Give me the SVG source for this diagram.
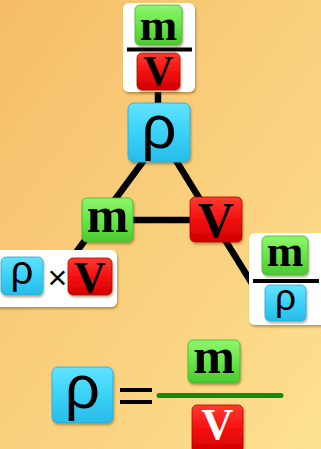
<svg xmlns="http://www.w3.org/2000/svg" width="321" height="449" viewBox="0 0 321 449">
<defs>
<linearGradient id="bg" x1="0" y1="0" x2="1" y2="1">
<stop offset="0" stop-color="#f5bd68"/>
<stop offset="1" stop-color="#fde190"/>
</linearGradient>
<linearGradient id="gG" x1="0" y1="0" x2="0" y2="1">
<stop offset="0" stop-color="#8ef56c"/>
<stop offset="0.5" stop-color="#68e648"/>
<stop offset="1" stop-color="#4cc832"/>
</linearGradient>
<linearGradient id="gR" x1="0" y1="0" x2="0" y2="1">
<stop offset="0" stop-color="#ff3a30"/>
<stop offset="0.5" stop-color="#f41010"/>
<stop offset="1" stop-color="#d00000"/>
</linearGradient>
<linearGradient id="gB" x1="0" y1="0" x2="0" y2="1">
<stop offset="0" stop-color="#62e2ff"/>
<stop offset="0.5" stop-color="#3ad2f8"/>
<stop offset="1" stop-color="#28bce8"/>
</linearGradient>
<filter id="sh" x="-20%" y="-20%" width="140%" height="150%">
<feDropShadow dx="1" dy="2" stdDeviation="1.3" flood-color="#5a3a00" flood-opacity="0.4"/>
</filter>
</defs>
<style>
.card{fill:#ffffff;filter:url(#sh)}
.g{fill:url(#gG);stroke:#45b52c;stroke-width:0.8;filter:url(#sh)}
.r{fill:url(#gR);stroke:#b80000;stroke-width:0.8;filter:url(#sh)}
.b{fill:url(#gB);stroke:#22aad4;stroke-width:0.8;filter:url(#sh)}
.ser{font-family:"Liberation Serif","Times New Roman",serif;font-weight:bold;fill:#000;text-anchor:middle}
.rho{font-family:"Liberation Sans",Arial,sans-serif;fill:#000;text-anchor:middle}
.bar{stroke:#000;stroke-width:4}
.con{stroke:#000;stroke-width:6.5;fill:none}
</style>
<rect x="0" y="0" width="321" height="449" fill="url(#bg)"/>
<g id="connectors">
<line class="con" x1="164" y1="133" x2="69" y2="262"/>
<line class="con" x1="159" y1="133" x2="256" y2="290"/>
<line class="con" x1="108" y1="220" x2="216" y2="220"/>
<line class="con" x1="158" y1="88" x2="158" y2="108"/>
</g>
<g id="top-fraction">
<rect class="card" x="123" y="3" width="72" height="89" rx="6"/>
<rect class="g" x="135" y="5" width="47" height="40" rx="5"/>
<text class="ser" x="158.5" y="40" font-size="45">m</text>
<line class="bar" x1="127" y1="49.5" x2="192" y2="49.5"/>
<rect class="r" x="137" y="53" width="43" height="37" rx="5"/>
<text class="ser" x="158.5" y="85" font-size="42">V</text>
</g>
<g id="rho">
<rect class="b" x="128" y="103" width="62" height="59" rx="6"/>
<text class="rho" x="159" y="148" font-size="62">ρ</text>
</g>
<g id="m">
<rect class="g" x="82" y="198" width="51" height="44" rx="5"/>
<text class="ser" x="107.5" y="232" font-size="50">m</text>
</g>
<g id="V">
<rect class="r" x="190" y="197" width="52" height="45" rx="5"/>
<text class="ser" x="216" y="237" font-size="50">V</text>
</g>
<g id="product">
<rect class="card" x="-6" y="250" width="123" height="57" rx="6"/>
<rect class="b" x="1" y="257" width="42" height="38" rx="5"/>
<text class="rho" x="22" y="284" font-size="40">ρ</text>
<text class="rho" x="57.5" y="289" font-size="34">×</text>
<rect class="r" x="68" y="258" width="44" height="37" rx="5"/>
<text class="ser" x="90" y="292" font-size="44">V</text>
</g>
<g id="right-fraction">
<rect class="card" x="249" y="233" width="80" height="92" rx="6"/>
<rect class="g" x="262" y="236" width="46" height="39" rx="5"/>
<text class="ser" x="285" y="266" font-size="44">m</text>
<line class="bar" x1="253" y1="281" x2="319" y2="281"/>
<rect class="b" x="265" y="285" width="41" height="36" rx="5"/>
<text class="rho" x="285.5" y="310" font-size="37">ρ</text>
</g>
<g id="formula">
<rect class="b" x="52" y="367" width="61" height="56" rx="6"/>
<text class="rho" x="82.5" y="408" font-size="62">ρ</text>
<line class="bar" x1="120" y1="390" x2="152" y2="390" stroke-width="5"/>
<line class="bar" x1="120" y1="402" x2="152" y2="402" stroke-width="5"/>
<line x1="159" y1="395.5" x2="281" y2="395.5" stroke="#148a14" stroke-width="5" stroke-linecap="round"/>
<rect class="g" x="188" y="340" width="52" height="43" rx="5"/>
<text class="ser" x="214" y="373" font-size="50">m</text>
<rect class="r" x="192" y="405" width="51" height="48" rx="5"/>
<text class="ser" x="217.5" y="439" font-size="44" style="fill:#ffffff">V</text>
</g>
</svg>
